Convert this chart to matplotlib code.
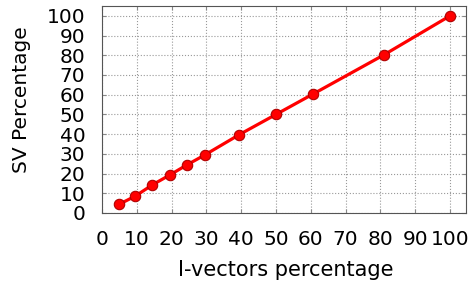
import matplotlib
matplotlib.use("Agg")
import matplotlib.pyplot as plt

ivec_pct = [5, 9.5, 14.5, 19.5, 24.5, 29.5, 39.5, 50, 60.5, 81, 100]
sv_pct = [4.5, 8.5, 14.3, 19.3, 24.5, 29.4, 39.8, 50, 60.2, 80.2, 100]
ticks = list(range(0, 101, 10))

fig = plt.figure(figsize=(4.7, 2.82), dpi=100)
ax = fig.add_axes([102/470, 1 - 213/282, (466-102)/470, (213-6)/282])

ax.plot(ivec_pct, sv_pct, color="red", lw=2.3, marker="o", ms=7.5,
        mfc="red", mec="#b00000", mew=0.8)

ax.set_xlim(0, 104.6)
ax.set_ylim(0, 105)
ax.set_xticks(ticks)
ax.set_yticks(ticks)
ax.grid(True, ls=":", color="#999999", lw=0.8)
ax.tick_params(direction="in", labelsize=14.5, length=3, top=True, right=True,
               color="#888888", pad=12)
for s in ax.spines.values():
    s.set_color("#555555")
ax.set_xlabel("I-vectors percentage", fontsize=15)
ax.set_ylabel("SV Percentage", fontsize=14.5)
ax.xaxis.set_label_coords((286-102)/364, -(260-213)/207)
ax.yaxis.set_label_coords(-(102-31)/364, (213-100)/207)

fig.savefig("out.png", dpi=100)
